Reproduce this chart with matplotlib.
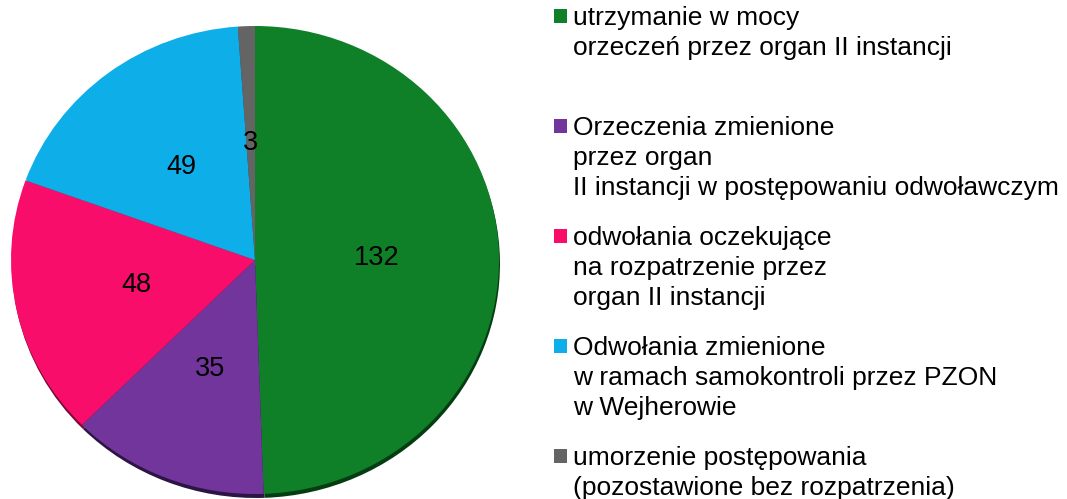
import matplotlib
matplotlib.use("Agg")
import matplotlib.pyplot as plt
from matplotlib.patches import Rectangle

plt.rcParams['font.family'] = ['Liberation Sans', 'DejaVu Sans']

categories = [
    "utrzymanie w mocy\norzeczeń przez organ II instancji",
    "Orzeczenia zmienione\nprzez organ\nII instancji w postępowaniu odwoławczym",
    "odwołania oczekujące\nna rozpatrzenie przez\norgan II instancji",
    "Odwołania zmienione\nw ramach samokontroli przez PZON\nw Wejherowie",
    "umorzenie postępowania\n(pozostawione bez rozpatrzenia)",
]
values = [132, 35, 48, 49, 3]
colors = ["#0f7f28", "#71359b", "#f80d6a", "#0eaee8", "#646464"]
shadow_colors = ["#053d12", "#2c1545", "#7a0632", "#06577a", "#303030"]

W, H = 1067, 499
fig = plt.figure(figsize=(W / 100, H / 100), dpi=100)

# pie axes in pixel layout
left, right, top, bottom = 11, 499, 26, 494
ax = fig.add_axes([left / W, (H - bottom) / H, (right - left) / W, (bottom - top) / H])

total = sum(values)
# shadow
ax.pie(values, colors=shadow_colors, startangle=90, counterclock=False,
       center=(0.004, -0.017), wedgeprops=dict(linewidth=0))
wedges, texts, autotexts = ax.pie(
    values, colors=colors, startangle=90, counterclock=False,
    autopct=lambda p: f"{round(p * total / 100)}", pctdistance=0.5,
    wedgeprops=dict(linewidth=0),
    textprops=dict(fontsize=19.5, color="black"))
ax.set_aspect('auto')
ax.set_xlim(-1, 1)
ax.set_ylim(-1.0, 1.0)
ax.axis('off')

# legend drawn in pixel coordinates
lax = fig.add_axes([0, 0, 1, 1])
lax.set_xlim(0, W)
lax.set_ylim(H, 0)
lax.axis('off')
for i, (lab, col) in enumerate(zip(categories, colors)):
    base = 25 + 110 * i
    lax.add_patch(Rectangle((554, base - 16), 13, 14, facecolor=col, edgecolor='none'))
    for j, line in enumerate(lab.split("\n")):
        lax.text(573, base + 30 * j, line, fontsize=19, va='baseline', ha='left',
                 color='black')

fig.savefig("out.png", dpi=100)
